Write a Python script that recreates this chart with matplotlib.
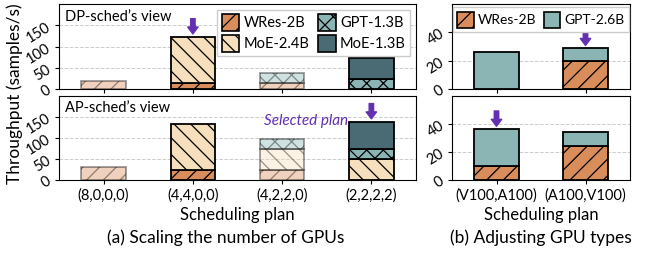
import matplotlib
matplotlib.use("Agg")
import matplotlib.pyplot as plt
import numpy as np
from matplotlib.patches import Patch

# ---------------- data ----------------
plans_a = ['(8,0,0,0)', '(4,4,0,0)', '(4,2,2,0)', '(2,2,2,2)']
models_a = ['WRes-2B', 'MoE-2.4B', 'GPT-1.3B', 'MoE-1.3B']
dp_wres = [20, 15, 14, 0]
dp_moe24 = [0, 108, 0, 0]
dp_gpt13 = [0, 0, 24, 23]
dp_moe13 = [0, 0, 0, 50]
ap_wres = [30, 24.5, 24.5, 0]
ap_moe24 = [0, 108.5, 50, 50]
ap_gpt13 = [0, 0, 23.5, 24]
ap_moe13 = [0, 0, 0, 65]
faded_a = [True, False, True, False]
dp_selected = 1
ap_selected = 3

plans_b = ['(V100,A100)', '(A100,V100)']
models_b = ['WRes-2B', 'GPT-2.6B']
b_top_wres = [0, 19.5]
b_top_gpt26 = [26, 9.3]
b_bot_wres = [10, 24.3]
b_bot_gpt26 = [26.4, 10]
b_top_selected = 1
b_bot_selected = 0

# ---------------- style ----------------
plt.rcParams['font.family'] = ['Lato', 'DejaVu Sans']
plt.rcParams['hatch.linewidth'] = 0.9
colors = {'WRes-2B': '#D98D5B', 'MoE-2.4B': '#F6DFBC', 'GPT-1.3B': '#8BB4B4',
          'MoE-1.3B': '#4A6B74', 'GPT-2.6B': '#8BB4B4'}
hatches = {'WRes-2B': '//', 'MoE-2.4B': '\\\\', 'GPT-1.3B': 'xx', 'MoE-1.3B': '', 'GPT-2.6B': ''}
purple = '#6330B0'
W, H = 646, 254
fig = plt.figure(figsize=(W / 100, H / 100), dpi=100)


def px_axes(x0, y0, x1, y1):
    return fig.add_axes([x0 / W, 1 - y1 / H, (x1 - x0) / W, (y1 - y0) / H])


def draw_stack(ax, series, names, faded=None):
    x = np.arange(len(series[0]))
    bottom = np.zeros(len(x))
    for vals, name in zip(series, names):
        for i, v in enumerate(vals):
            if v <= 0:
                continue
            a = 0.4 if (faded is not None and faded[i]) else 1.0
            ax.bar(x[i], v, bottom=bottom[i], width=0.5, color=colors[name],
                   edgecolor='black', hatch=hatches[name], linewidth=1.3,
                   alpha=a, zorder=3)
        bottom += np.array(vals, dtype=float)
    return bottom


def arrow(ax, x, y):
    ax.annotate('', xy=(x, y), xytext=(0, 13), textcoords='offset points',
                arrowprops=dict(arrowstyle='simple,head_length=0.5,head_width=0.75,tail_width=0.32',
                                color=purple, shrinkA=0, shrinkB=2, mutation_scale=10),
                annotation_clip=False, zorder=5)


def style(ax, ylim, ticks, nx, labels=None):
    ax.set_ylim(*ylim)
    ax.set_xlim(-0.5, nx - 0.5)
    ax.set_yticks(ticks)
    ax.tick_params(axis='y', labelsize=10.5, length=3, pad=1)
    for t in ax.get_yticklabels():
        t.set_rotation(32)
    ax.set_xticks(range(nx))
    if labels is None:
        ax.set_xticklabels([])
    else:
        ax.set_xticklabels(labels, fontsize=10.5)
    ax.tick_params(axis='x', length=3, pad=3)
    ax.grid(axis='y', linestyle='--', color='#CCCCCC', linewidth=0.7, zorder=0)
    ax.set_axisbelow(True)


# ---- left top ----
ax1 = px_axes(59, 4, 416, 89)
tops = draw_stack(ax1, [dp_wres, dp_moe24, dp_gpt13, dp_moe13], models_a, faded_a)
style(ax1, (0, 200), [0, 50, 100, 150], 4)
arrow(ax1, dp_selected, tops[dp_selected])
ax1.text(0.018, 0.85, 'DP-sched\u2019s view', transform=ax1.transAxes, fontsize=10.5,
         va='center', ha='left')
handles = [Patch(facecolor=colors[m], edgecolor='black', hatch=hatches[m], linewidth=1.2)
           for m in models_a]
ax1.legend(handles=handles, labels=models_a, ncol=2, loc='upper right', fontsize=10.5,
           handlelength=1.2, handleheight=1.4, handletextpad=0.3, columnspacing=0.6,
           borderpad=0.3, labelspacing=0.25, fancybox=False, edgecolor='#CCCCCC',
           borderaxespad=0.4, framealpha=1)

# ---- left bottom ----
ax2 = px_axes(59, 96, 416, 180)
tops = draw_stack(ax2, [ap_wres, ap_moe24, ap_gpt13, ap_moe13], models_a, faded_a)
style(ax2, (0, 200), [0, 50, 100, 150], 4, plans_a)
arrow(ax2, ap_selected, tops[ap_selected])
ax2.text(0.018, 0.86, 'AP-sched\u2019s view', transform=ax2.transAxes, fontsize=10.5,
         va='center', ha='left')
ax2.text(0.81, 0.70, 'Selected plan', transform=ax2.transAxes, fontsize=11,
         style='italic', color=purple, va='center', ha='right')
ax2.set_xlabel('Scheduling plan', fontsize=12, labelpad=3)

# ---- right top ----
ax3 = px_axes(452, 4, 630, 89)
tops = draw_stack(ax3, [b_top_wres, b_top_gpt26], models_b)
style(ax3, (0, 60), [0, 20, 40], 2)
arrow(ax3, b_top_selected, tops[b_top_selected])
handles_b = [Patch(facecolor=colors[m], edgecolor='black', hatch=hatches[m], linewidth=1.2)
             for m in models_b]
ax3.legend(handles=handles_b, labels=models_b, ncol=2, loc='upper center', fontsize=10,
           handlelength=1.2, handleheight=1.4, handletextpad=0.3, columnspacing=0.5,
           borderpad=0.3, fancybox=False, edgecolor='#CCCCCC', borderaxespad=0.25,
           framealpha=1)

# ---- right bottom ----
ax4 = px_axes(452, 96, 630, 180)
tops = draw_stack(ax4, [b_bot_wres, b_bot_gpt26], models_b)
style(ax4, (0, 60), [0, 20, 40], 2, plans_b)
arrow(ax4, b_bot_selected, tops[b_bot_selected])
ax4.set_xlabel('Scheduling plan', fontsize=12, labelpad=3)

fig.text(15 / W, 1 - 94 / H, 'Throughput (samples/s)', rotation=90, fontsize=12.5,
         ha='center', va='center')
fig.text(226 / W, 1 - 238 / H, '(a) Scaling the number of GPUs', fontsize=12.5,
         ha='center', va='center')
fig.text(541 / W, 1 - 238 / H, '(b) Adjusting GPU types', fontsize=12.5,
         ha='center', va='center')

fig.savefig('out.png', dpi=100)
